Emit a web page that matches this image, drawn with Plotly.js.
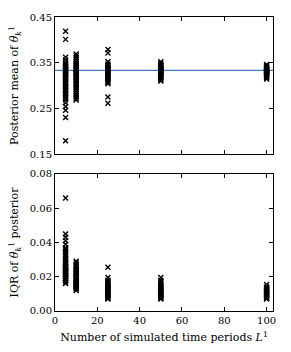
<!DOCTYPE html>
<html>
<head>
<meta charset="utf-8">
<script src="https://cdn.plot.ly/plotly-3.0.1.min.js"></script>
<style>html,body{margin:0;padding:0;background:#fff;}#chart{width:291px;height:352px;}</style>
</head>
<body>
<div id="chart"></div>
<script>
// Simulated time periods L^1 (columns)
const periods = [5, 10, 25, 50, 100];
// Posterior mean of theta_k^1, one list per column
const mean5 = [0.419, 0.401, 0.362, 0.356, 0.350, 0.347, 0.344, 0.342, 0.339, 0.337, 0.335, 0.333, 0.331, 0.329, 0.326, 0.324, 0.321, 0.318, 0.316, 0.313, 0.310, 0.307, 0.304, 0.301, 0.298, 0.295, 0.292, 0.289, 0.286, 0.283, 0.280, 0.276, 0.273, 0.269, 0.262, 0.254, 0.246, 0.230, 0.179];
const mean10 = [0.369, 0.365, 0.361, 0.357, 0.353, 0.349, 0.346, 0.344, 0.341, 0.338, 0.336, 0.334, 0.332, 0.329, 0.327, 0.325, 0.322, 0.319, 0.317, 0.314, 0.311, 0.308, 0.305, 0.302, 0.298, 0.295, 0.291, 0.287, 0.283, 0.279, 0.275, 0.271, 0.268];
const mean25 = [0.379, 0.371, 0.352, 0.347, 0.344, 0.341, 0.339, 0.337, 0.335, 0.334, 0.332, 0.330, 0.328, 0.326, 0.324, 0.322, 0.320, 0.317, 0.315, 0.312, 0.309, 0.306, 0.304, 0.275, 0.261];
const mean50 = [0.352, 0.349, 0.346, 0.344, 0.342, 0.340, 0.338, 0.337, 0.335, 0.334, 0.333, 0.332, 0.331, 0.330, 0.328, 0.327, 0.325, 0.323, 0.321, 0.319, 0.317, 0.315, 0.312, 0.310];
const mean100 = [0.346, 0.343, 0.341, 0.339, 0.337, 0.336, 0.335, 0.334, 0.333, 0.332, 0.331, 0.330, 0.329, 0.328, 0.327, 0.325, 0.323, 0.321, 0.319, 0.317, 0.314];
// IQR of theta_k^1 posterior, one list per column
const iqr5 = [0.066, 0.045, 0.043, 0.041, 0.039, 0.037, 0.036, 0.035, 0.034, 0.033, 0.032, 0.031, 0.030, 0.029, 0.028, 0.028, 0.027, 0.026, 0.026, 0.025, 0.025, 0.024, 0.024, 0.023, 0.023, 0.022, 0.022, 0.021, 0.021, 0.020, 0.020, 0.019, 0.019, 0.018, 0.018, 0.017, 0.016];
const iqr10 = [0.029, 0.028, 0.027, 0.026, 0.025, 0.024, 0.024, 0.023, 0.022, 0.022, 0.021, 0.020, 0.020, 0.019, 0.019, 0.018, 0.018, 0.017, 0.017, 0.016, 0.016, 0.015, 0.015, 0.014, 0.014, 0.013, 0.013, 0.012];
const iqr25 = [0.0255, 0.0195, 0.018, 0.017, 0.0165, 0.016, 0.0155, 0.015, 0.0145, 0.014, 0.0135, 0.013, 0.0125, 0.012, 0.0115, 0.011, 0.0105, 0.010, 0.0095, 0.009, 0.0085, 0.008, 0.0075, 0.007];
const iqr50 = [0.0195, 0.018, 0.017, 0.016, 0.015, 0.0145, 0.014, 0.0135, 0.013, 0.0125, 0.012, 0.0115, 0.011, 0.0105, 0.010, 0.0095, 0.009, 0.0085, 0.008, 0.0075, 0.007];
const iqr100 = [0.0155, 0.014, 0.0135, 0.013, 0.0125, 0.012, 0.0115, 0.011, 0.0105, 0.010, 0.0095, 0.009, 0.0085, 0.008, 0.0075, 0.007];
// True value line
const trueValue = [0.3333];
const xTicks = [0, 20, 40, 60, 80, 100];
const meanTicks = [0.15, 0.25, 0.35, 0.45];
const iqrTicks = [0, 0.02, 0.04, 0.06, 0.08];

const meanCols = [mean5, mean10, mean25, mean50, mean100];
const iqrCols = [iqr5, iqr10, iqr25, iqr50, iqr100];

function flatten(cols) {
  const xs = [], ys = [];
  cols.forEach((c, i) => c.forEach(v => { xs.push(periods[i]); ys.push(v); }));
  return {xs, ys};
}
const m = flatten(meanCols), q = flatten(iqrCols);
const marker = {symbol: 'x-thin', size: 5, color: 'black', line: {color: 'black', width: 1.4}};

const traces = [
  {x: m.xs, y: m.ys, xaxis: 'x', yaxis: 'y', type: 'scatter', mode: 'markers', marker: marker, hoverinfo: 'none'},
  {x: q.xs, y: q.ys, xaxis: 'x2', yaxis: 'y2', type: 'scatter', mode: 'markers', marker: marker, hoverinfo: 'none'}
];

const font = {family: '"DejaVu Serif", "Liberation Serif", serif', color: 'black', size: 10};
const axBase = {
  showline: true, linecolor: 'black', linewidth: 1, mirror: 'ticks',
  ticks: 'inside', ticklen: 4, tickcolor: 'black', tickwidth: 1,
  showgrid: false, zeroline: false, tickfont: {size: 10}
};

const layout = {
  width: 291, height: 352,
  margin: {l: 55, r: 18, t: 17, b: 41},
  paper_bgcolor: 'white', plot_bgcolor: 'white',
  font: font, showlegend: false,
  xaxis: Object.assign({}, axBase, {domain: [0, 1], anchor: 'y', range: [0, 103], tickvals: xTicks, showticklabels: false}),
  yaxis: Object.assign({}, axBase, {domain: [0.534, 1], anchor: 'x', range: [0.15, 0.45], tickvals: meanTicks, ticktext: meanTicks.map(v => v.toFixed(2)),
    title: {text: 'Posterior mean of <i>θ</i><sub><i>k</i></sub><sup>1</sup>', font: {size: 11}, standoff: 8}}),
  xaxis2: Object.assign({}, axBase, {domain: [0, 1], anchor: 'y2', range: [0, 103], tickvals: xTicks,
    title: {text: 'Number of simulated time periods <i>L</i><sup>1</sup>', font: {size: 11}, standoff: 8}}),
  yaxis2: Object.assign({}, axBase, {domain: [0, 0.466], anchor: 'x2', range: [0, 0.08], tickvals: iqrTicks, ticktext: iqrTicks.map(v => v.toFixed(2)),
    title: {text: 'IQR of <i>θ</i><sub><i>k</i></sub><sup>1</sup> posterior', font: {size: 11}, standoff: 8}}),
  shapes: trueValue.map(v => ({type: 'line', xref: 'x domain', yref: 'y', x0: 0, x1: 1, y0: v, y1: v, line: {color: '#3b7fc4', width: 1.3}, layer: 'below'}))
};

Plotly.newPlot('chart', traces, layout, {displayModeBar: false, staticPlot: true});
</script>
</body>
</html>
